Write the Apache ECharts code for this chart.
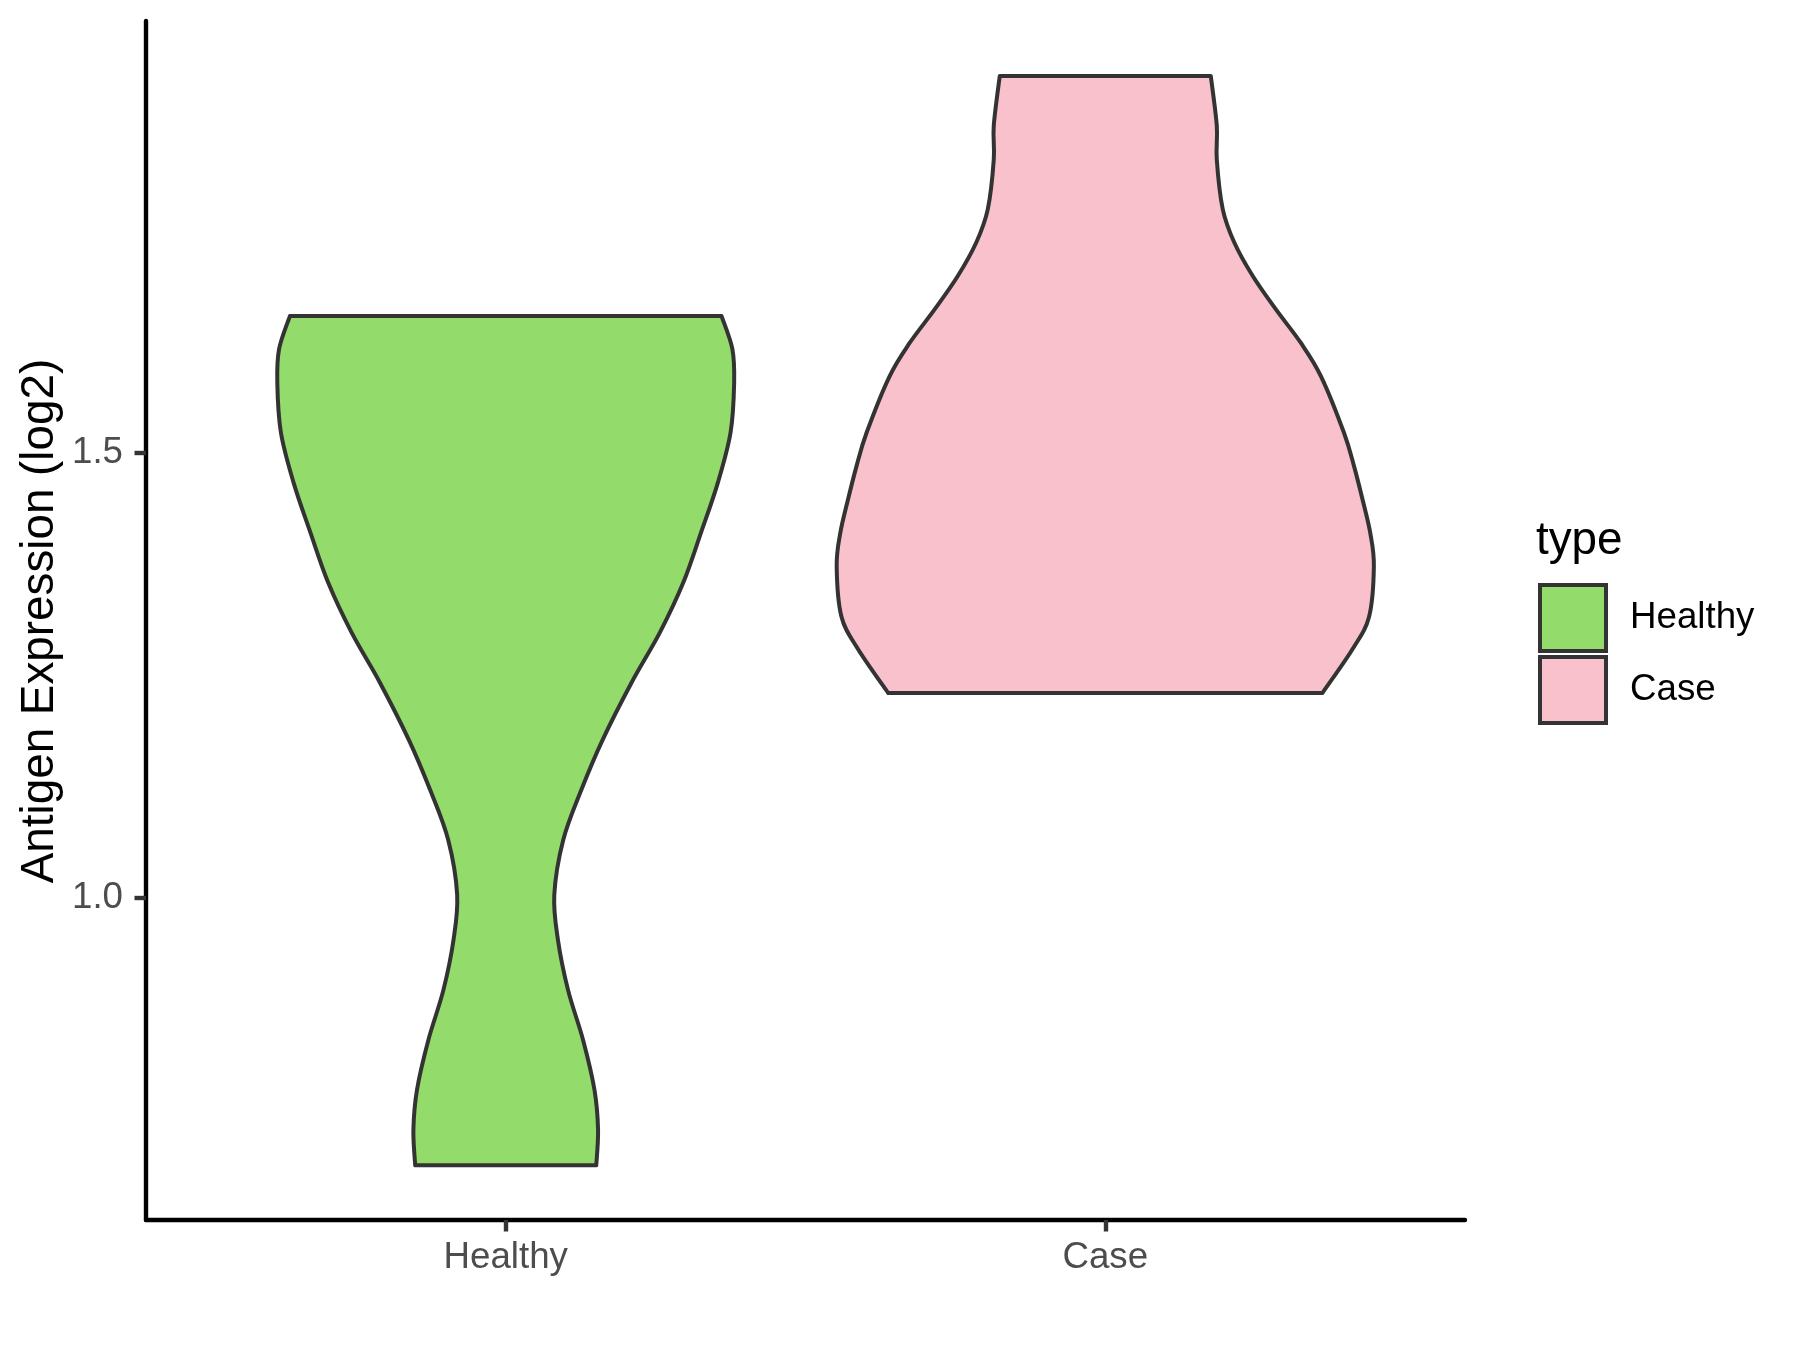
<!DOCTYPE html>
<html>
<head>
<meta charset="utf-8">
<script src="https://cdn.jsdelivr.net/npm/echarts@6/dist/echarts.min.js"></script>
<style>
  html, body { margin: 0; padding: 0; background: #ffffff; }
  #chart { width: 1800px; height: 1350px; }
</style>
</head>
<body>
<div id="chart"></div>
<script>
// ---- data ----
const categories = ['Healthy', 'Case'];
const legendTitle = 'type';
const yAxisTitle = 'Antigen Expression (log2)';
const yTicks = [1.0, 1.5];

// violin outline profiles: value (log2) and half-width (in category units)
const healthyValues = [1.654, 1.617, 1.579, 1.523, 1.467, 1.411, 1.354, 1.298, 1.242, 1.178, 1.121, 1.065, 1.003, 0.953, 0.896, 0.840, 0.784, 0.739, 0.699];
const healthyHalfWidths = [0.360, 0.378, 0.381, 0.375, 0.354, 0.326, 0.296, 0.257, 0.210, 0.162, 0.126, 0.096, 0.081, 0.087, 0.104, 0.129, 0.148, 0.154, 0.151];

const caseValues = [1.924, 1.868, 1.830, 1.774, 1.737, 1.699, 1.662, 1.624, 1.586, 1.523, 1.485, 1.448, 1.410, 1.373, 1.316, 1.279, 1.230];
const caseHalfWidths = [0.176, 0.186, 0.186, 0.196, 0.215, 0.246, 0.284, 0.326, 0.360, 0.398, 0.415, 0.429, 0.442, 0.448, 0.440, 0.412, 0.362];

const groupColors = ['#93DB6A', '#F8C1CC'];
const outlineColor = '#333333';

const chart = echarts.init(document.getElementById('chart'), null, { renderer: 'canvas' });

// Catmull-Rom curve through screen points, written as cubic bezier path commands
function curveCmds(pts) {
  let d = '';
  for (let i = 0; i < pts.length - 1; i++) {
    const p0 = pts[Math.max(0, i - 1)];
    const p1 = pts[i];
    const p2 = pts[i + 1];
    const p3 = pts[Math.min(pts.length - 1, i + 2)];
    const c1x = p1[0] + (p2[0] - p0[0]) / 6, c1y = p1[1] + (p2[1] - p0[1]) / 6;
    const c2x = p2[0] - (p3[0] - p1[0]) / 6, c2y = p2[1] - (p3[1] - p1[1]) / 6;
    d += ' C' + c1x + ' ' + c1y + ' ' + c2x + ' ' + c2y + ' ' + p2[0] + ' ' + p2[1];
  }
  return d;
}

function makeRender(vals, hws, xPos, fill) {
  return function (params, api) {
    const left = vals.map((v, i) => api.coord([xPos - hws[i], v]));
    const right = vals.map((v, i) => api.coord([xPos + hws[i], v]));
    const n = vals.length;
    const rightUp = right.slice().reverse();
    let d = 'M' + left[0][0] + ' ' + left[0][1];
    d += curveCmds(left);
    d += ' L' + rightUp[0][0] + ' ' + rightUp[0][1];
    d += curveCmds(rightUp);
    d += ' Z';
    return {
      type: 'path',
      shape: { pathData: d },
      style: { fill: fill, stroke: outlineColor, lineWidth: 4, lineJoin: 'round' }
    };
  };
}

const profiles = [
  [healthyValues, healthyHalfWidths],
  [caseValues, caseHalfWidths]
];

const series = categories.map((name, i) => ({
  name: name,
  type: 'custom',
  coordinateSystem: 'cartesian2d',
  itemStyle: { color: groupColors[i] },
  renderItem: makeRender(profiles[i][0], profiles[i][1], i + 1, groupColors[i]),
  data: [[i + 1, profiles[i][0][0]]],
  silent: true
}));

const FONT = '"Liberation Sans", Arial, Helvetica, sans-serif';

const option = {
  backgroundColor: '#ffffff',
  animation: false,
  grid: { left: 146, right: 335, top: 21, bottom: 130, containLabel: false },
  xAxis: {
    type: 'value',
    min: 0.4,
    max: 2.6,
    splitLine: { show: false },
    axisLine: { show: true, onZero: false, lineStyle: { color: '#000000', width: 4.4 } },
    axisTick: { show: true, customValues: [1, 2], length: 11.5, lineStyle: { color: '#333333', width: 4.4 } },
    axisLabel: {
      customValues: [1, 2],
      formatter: (v) => categories[Math.round(v) - 1] || '',
      color: '#4D4D4D', fontFamily: FONT, fontSize: 36.7, margin: 19
    }
  },
  yAxis: {
    type: 'value',
    min: 0.6375,
    max: 1.9858,
    splitLine: { show: false },
    axisLine: { show: true, onZero: false, lineStyle: { color: '#000000', width: 4.4 } },
    axisTick: { show: true, customValues: yTicks, length: 11.5, lineStyle: { color: '#333333', width: 4.4 } },
    axisLabel: {
      customValues: yTicks,
      formatter: (v) => v.toFixed(1),
      color: '#4D4D4D', fontFamily: FONT, fontSize: 36.7, margin: 23
    }
  },
  legend: {
    orient: 'vertical',
    left: 1538,
    top: 583,
    padding: 0,
    itemWidth: 66,
    itemHeight: 66,
    itemGap: 2,
    icon: 'rect',
    data: categories,
    selectedMode: false,
    itemStyle: { borderColor: outlineColor, borderWidth: 4 },
    textStyle: { fontFamily: FONT, fontSize: 36.7, color: '#000000', padding: [10, 0, 0, 19] }
  },
  graphic: [
    {
      type: 'text',
      x: 40,
      y: 621,
      rotation: Math.PI / 2,
      style: {
        text: yAxisTitle,
        font: '45.8px ' + FONT,
        fill: '#000000',
        align: 'center',
        verticalAlign: 'middle'
      }
    },
    {
      type: 'text',
      x: 1536,
      y: 541,
      style: {
        text: legendTitle,
        font: '45.8px ' + FONT,
        fill: '#000000',
        align: 'left',
        verticalAlign: 'middle'
      }
    }
  ],
  series: series
};

chart.setOption(option);
</script>
</body>
</html>
